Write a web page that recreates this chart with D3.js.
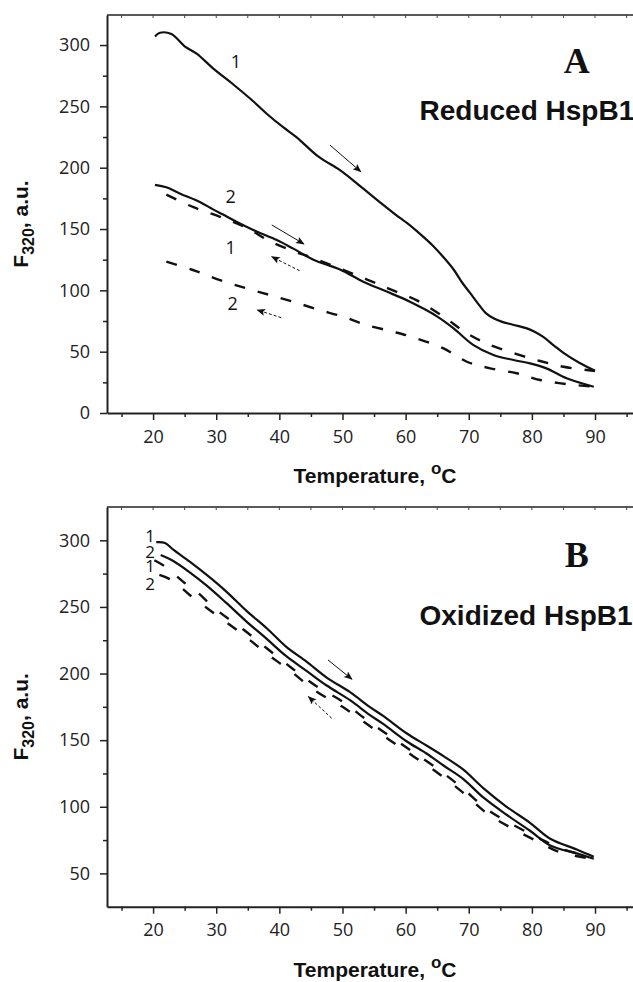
<!DOCTYPE html>
<html>
<head>
<meta charset="utf-8">
<script src="https://cdnjs.cloudflare.com/ajax/libs/d3/7.8.5/d3.min.js"></script>
<style>
  body { margin: 0; background: #fff; }
  svg { display: block; }
</style>
</head>
<body>
<div id="chart"></div>
<script>
// ---- data: [temperature, F320] ----
// panel A, reduced HspB1
const redHeat1 = [[20.3,307],[21.1,310],[22.9,309],[25,299],[26.9,293],[29.5,281],[32.9,267],[35.9,254],[38,244],[40.6,233],[42.7,225],[46.2,209],[49.6,198],[52.8,185],[55.9,172],[59.1,159],[60.2,155],[62.5,145],[64.4,136],[66,127],[67.6,117],[69,106],[70.2,98],[71.5,89],[72.8,81],[74,77],[75.2,74.5],[77,72],[79.2,69],[80.5,66],[81.8,62],[83.5,55],[85,49],[87.5,41],[90,34.5]];
const redHeat2 = [[20.3,186],[22.1,184],[24.2,179],[27.4,172],[29.5,166],[31,162],[33.2,156],[36.4,148],[39.6,141],[42.2,134],[45.4,125],[49.6,117],[53.3,107],[57,99],[60.6,91],[62.5,86],[64.9,79],[67.6,69],[70.7,55.5],[73.9,47.3],[77.1,43.2],[79.7,40.5],[82.3,36.4],[85.5,28.3],[89.8,21.4]];
const redCool1 = [[22.1,178],[26.3,168],[30.6,160],[34.8,151],[38.5,140],[42.2,132],[45,127],[49,119],[53.8,109],[57.5,101],[61.7,92],[66,78.5],[69.7,65],[73.4,55.4],[77.6,48],[81.3,42.4],[85,37.7],[90,34.2]];
const redCool2 = [[22.1,123.4],[26.3,116.6],[30.6,108.4],[34.8,101.6],[38.5,96.2],[42.2,90.7],[46,84.5],[50.1,78.5],[53.8,71.7],[58,66.3],[61.7,60.9],[66,52.7],[69.7,41.8],[73.4,36.4],[77.6,32.4],[81.3,26.9],[85.5,23.6],[89.8,21.4]];

// panel B, oxidized HspB1
const oxHeat1 = [[20.5,298.6],[21.9,298],[23.2,293],[25.8,284],[28.5,274],[31.6,261.5],[34.8,247],[38,234],[41.1,220],[44.3,209],[47.5,197],[51.2,186],[54.3,175],[56.5,168],[60.2,155],[63.3,146],[66,138],[69.1,128],[72.3,114],[76,100],[79.7,88],[82.9,76],[87.1,68],[89.8,62.5]];
const oxHeat2 = [[21.2,289],[23,285],[25.8,276],[28.5,266],[31.6,253],[34.8,239],[38,226],[41.1,213],[44.3,202],[47.5,191],[51.2,180],[54.3,169],[56.5,162],[60.2,149],[63.3,140],[66,131],[69.1,121],[72.3,107],[76,94],[79.7,82],[82.9,71],[87.1,65],[89.8,61]];
const oxCool1 = [[20.2,285],[22,280],[25,268],[27,261],[30,248],[34.3,233],[38,219],[42,204],[45.7,191],[50,179],[53.6,166],[57.5,153],[61.2,141],[65.2,128],[69,114],[72.9,98],[76.8,87],[80.9,77],[84.4,69],[89.5,62]];
const oxCool2 = [[21,274],[23,270],[25.8,259],[30,244],[34.3,229],[38,215],[42,201],[45.7,187],[50,175],[53.6,163],[57.5,150],[61.2,138],[65.2,125],[69,111],[72.9,95],[76.8,84],[80.9,74],[84.4,66],[89.5,61]];

// curve number labels [T, F320, text]
const labelsA = [[33.1,281,'1'],[32.3,171,'2'],[32.3,130,'1'],[32.6,84,'2']];
const labelsB = [[20.3,299,'1'],[20.3,287,'2'],[20.3,276,'1'],[20.3,263,'2']];

// direction arrows [fromT, fromF, toT, toF, dashed]
const arrowsA = [[48.0,218.5,52.9,196.7,false],[38.8,153.3,43.9,137.8,false],[43.2,116,38.8,127.4,true],[40.3,77.7,36.5,84,true]];
const arrowsB = [[47.7,210.2,51.5,195.7,false],[48.3,166.4,44.6,182.7,true]];

// ticks
const xTicks = [20,30,40,50,60,70,80,90];
const xMinor = [15,25,35,45,55,65,75,85,95];
const yTicksA = [0,50,100,150,200,250,300];
const yMinorA = [25,75,125,175,225,275];
const yTicksB = [50,100,150,200,250,300];
const yMinorB = [75,125,175,225,275];

const W = 633, H = 982;
const tickFont = '"Open Sans", sans-serif';
const boldFont = '"Liberation Sans", Arial, sans-serif';

const svg = d3.select('#chart').append('svg')
    .attr('width', W).attr('height', H);
svg.append('rect').attr('width', W).attr('height', H).attr('fill', '#fff');

const defs = svg.append('defs');
defs.append('marker')
    .attr('id', 'head')
    .attr('markerUnits', 'userSpaceOnUse')
    .attr('viewBox', '0 0 10 8')
    .attr('refX', 9).attr('refY', 4)
    .attr('markerWidth', 10).attr('markerHeight', 7)
    .attr('orient', 'auto')
    .append('path').attr('d', 'M0,0 L10,4 L0,8 L2,4 Z').attr('fill', '#111');

const x = d3.scaleLinear().domain([12.7, 97.6]).range([107, 643]);

function drawPanel(p) {
    const y = d3.scaleLinear().domain(p.yDomain).range([p.bottom, p.top]);
    const g = svg.append('g');

    // top frame line with little inward ticks
    g.append('line').attr('x1', x.range()[0]).attr('x2', x.range()[1])
        .attr('y1', p.top).attr('y2', p.top)
        .attr('stroke', '#222').attr('stroke-width', 1.5);
    g.selectAll('.ttick').data(xTicks.concat(xMinor)).join('line')
        .attr('x1', d => x(d)).attr('x2', d => x(d))
        .attr('y1', p.top).attr('y2', p.top + 3)
        .attr('stroke', '#444').attr('stroke-width', 1);

    // bottom axis
    g.append('g').attr('transform', `translate(0,${p.bottom})`)
        .call(d3.axisBottom(x).tickValues(xTicks).tickSize(7).tickPadding(10).tickSizeOuter(0));
    g.append('g').attr('transform', `translate(0,${p.bottom})`)
        .call(d3.axisBottom(x).tickValues(xMinor).tickSize(4).tickFormat('').tickSizeOuter(0))
        .select('.domain').remove();

    // left axis
    g.append('g').attr('transform', `translate(${x.range()[0]},0)`)
        .call(d3.axisLeft(y).tickValues(p.yTicks).tickSize(7).tickPadding(10).tickSizeOuter(0));
    g.append('g').attr('transform', `translate(${x.range()[0]},0)`)
        .call(d3.axisLeft(y).tickValues(p.yMinor).tickSize(4).tickFormat('').tickSizeOuter(0))
        .select('.domain').remove();

    g.selectAll('.domain').attr('stroke', '#222').attr('stroke-width', 2);
    g.selectAll('.tick line').attr('stroke', '#222').attr('stroke-width', 1.5);
    g.selectAll('.tick text').attr('font-family', tickFont).attr('font-size', 18).attr('fill', '#222');

    // axis titles
    const xt = g.append('text')
        .attr('x', (x.range()[0] + x.range()[1]) / 2).attr('y', p.bottom + 70)
        .attr('text-anchor', 'middle')
        .attr('font-family', boldFont).attr('font-weight', 'bold').attr('font-size', 21)
        .attr('fill', '#111');
    xt.append('tspan').text('Temperature, ');
    xt.append('tspan').attr('font-size', 17).attr('dy', -9).text('o');
    xt.append('tspan').attr('dy', 9).text('C');

    const cy = (p.top + p.bottom) / 2 + 10;
    const yt = g.append('text')
        .attr('transform', `translate(28,${cy}) rotate(-90)`)
        .attr('text-anchor', 'middle')
        .attr('font-family', boldFont).attr('font-weight', 'bold').attr('font-size', 21)
        .attr('fill', '#111');
    yt.append('tspan').text('F');
    yt.append('tspan').attr('font-size', 16).attr('dy', 6).text('320');
    yt.append('tspan').attr('dy', -6).text(', a.u.');

    // curves
    const line = d3.line().x(d => x(d[0])).y(d => y(d[1])).curve(d3.curveCatmullRom.alpha(0.5));
    p.solid.forEach(s => {
        g.append('path').datum(s).attr('d', line)
            .attr('fill', 'none').attr('stroke', '#111').attr('stroke-width', 2.2)
            .attr('stroke-linejoin', 'round');
    });
    p.dashed.forEach(s => {
        g.append('path').datum(s).attr('d', line)
            .attr('fill', 'none').attr('stroke', '#111').attr('stroke-width', 2.4)
            .attr('stroke-dasharray', p.dash);
    });

    // arrows
    g.selectAll('.arrow').data(p.arrows).join('line')
        .attr('x1', d => x(d[0])).attr('y1', d => y(d[1]))
        .attr('x2', d => x(d[2])).attr('y2', d => y(d[3]))
        .attr('stroke', '#111').attr('stroke-width', 1)
        .attr('stroke-dasharray', d => d[4] ? '3,2' : null)
        .attr('marker-end', 'url(#head)');

    // curve numbers
    g.selectAll('.num').data(p.labels).join('text')
        .attr('x', d => x(d[0])).attr('y', d => y(d[1]))
        .attr('text-anchor', p.labelAnchor)
        .attr('font-family', tickFont).attr('font-size', p.labelSize).attr('fill', '#111')
        .text(d => d[2]);

    // panel letter and title
    g.append('text').attr('x', x(p.letterAt[0])).attr('y', y(p.letterAt[1]))
        .attr('text-anchor', 'middle')
        .attr('font-family', '"Liberation Serif", "Times New Roman", serif')
        .attr('font-weight', 'bold').attr('font-size', 36).attr('fill', '#111')
        .text(p.letter);
    g.append('text').attr('x', x(p.titleAt[0])).attr('y', y(p.titleAt[1]))
        .attr('font-family', boldFont).attr('font-weight', 'bold').attr('font-size', 28)
        .attr('fill', '#111')
        .text(p.title);
}

drawPanel({
    top: 15, bottom: 413, yDomain: [0, 324.5],
    yTicks: yTicksA, yMinor: yMinorA,
    solid: [redHeat1, redHeat2], dashed: [redCool1, redCool2], dash: '11,13',
    arrows: arrowsA, labels: labelsA, labelAnchor: 'middle', labelSize: 18,
    letter: 'A', letterAt: [87.1, 277], title: 'Reduced HspB1', titleAt: [62.2, 239]
});

drawPanel({
    top: 507, bottom: 906.7, yDomain: [25, 325],
    yTicks: yTicksB, yMinor: yMinorB,
    solid: [oxHeat1, oxHeat2], dashed: [oxCool1, oxCool2], dash: '11,17',
    arrows: arrowsB, labels: labelsB, labelAnchor: 'end', labelSize: 17,
    letter: 'B', letterAt: [87.1, 280], title: 'Oxidized HspB1', titleAt: [62.2, 236.5]
});
</script>
</body>
</html>
